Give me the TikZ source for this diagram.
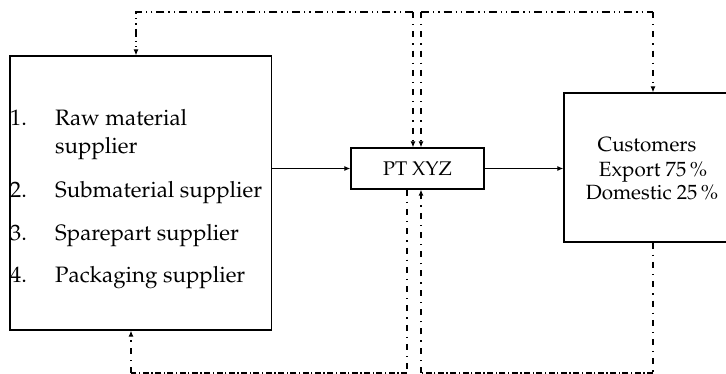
\documentclass[tikz,border=0pt]{standalone}
\usepackage[T1]{fontenc}
\usepackage{mathpazo}
\usetikzlibrary{arrows.meta}
\begin{document}
\begin{tikzpicture}[x=1pt,y=-1pt,
  box/.style={draw,line width=1.3pt,inner sep=0pt},
  tip/.style={-{Latex[length=6pt,width=5pt]}},
  ddot/.style={line width=1.1pt,dash pattern=on 8pt off 4pt on 1.3pt off 4pt on 1.3pt off 4pt},
  dvert/.style={line width=1.1pt,dash pattern=on 6pt off 6pt on 1.3pt off 6pt},
  dbot/.style={line width=1.1pt,dash pattern=on 6pt off 2.5pt on 1.3pt off 2.5pt},
  item/.style={anchor=base west,inner sep=0pt,font=\fontsize{22.3}{26}\selectfont},
  lbl/.style={font=\fontsize{19.8}{24}\selectfont},
  clbl/.style={anchor=base,inner sep=0pt,font=\fontsize{20.6}{24}\selectfont}]
\useasboundingbox (0,0) rectangle (726,374);
% boxes
\node[box,minimum width=261.5pt,minimum height=274pt] (sup) at (140.75,193) {};
\node[box,minimum width=133pt,minimum height=41pt,lbl] (pt) at (417.5,168.5) {PT XYZ};
\node[box,minimum width=176pt,minimum height=149pt] (cust) at (652,167.5) {};
% list text
\node[item] (n1) at (10,126) {1.};
\node[item] (t1) at (55,126) {Raw material};
\node[item] (t1b) at (55,154) {supplier};
\node[item] (n2) at (10,198) {2.};
\node[item] (t2) at (55,198) {Submaterial supplier};
\node[item] (n3) at (10,241) {3.};
\node[item] (t3) at (55,241) {Sparepart supplier};
\node[item] (n4) at (10,283) {4.};
\node[item] (t4) at (55,283) {Packaging supplier};
% customers text
\node[clbl] (c1) at (647,152) {Customers};
\node[clbl] (c2) at (653,177) {Export 75\,\%};
\node[clbl] (c3) at (652,200) {Domestic 25\,\%};
% solid flow
\draw[line width=1.1pt,tip] (sup.east |- pt.west) -- (pt.west);
\draw[line width=1.1pt,tip] (pt.east) -- (cust.west |- pt.east);
% coordinates
\coordinate (a1) at (136,12);
\coordinate (a2) at (413,12);
\coordinate (a3) at (421,12);
\coordinate (a4) at (653,12);
\coordinate (b1) at (131,373);
\coordinate (b2) at (407,373);
\coordinate (b3) at (421,373);
\coordinate (b4) at (653,373);
% top dash-dot lines
\draw[ddot,tip] (a2) -- (a1) -- (a1 |- sup.north);
\draw[dvert,tip] (a2) -- (a2 |- pt.north);
\draw[ddot] (a3) -- (a4);
\draw[dvert,tip] (a3) -- (a3 |- pt.north);
\draw[dvert,tip] (a4) -- (a4 |- cust.north);
% bottom lines
\draw[dvert] (b2 |- pt.south) -- (b2);
\draw[dbot] (b2) -- (b1);
\draw[dvert,tip] (b1) -- (b1 |- sup.south);
\draw[dvert] (b4 |- cust.south) -- (b4);
\draw[dbot] (b4) -- (b3);
\draw[dvert,tip] (b3) -- (b3 |- pt.south);
\end{tikzpicture}
\end{document}
